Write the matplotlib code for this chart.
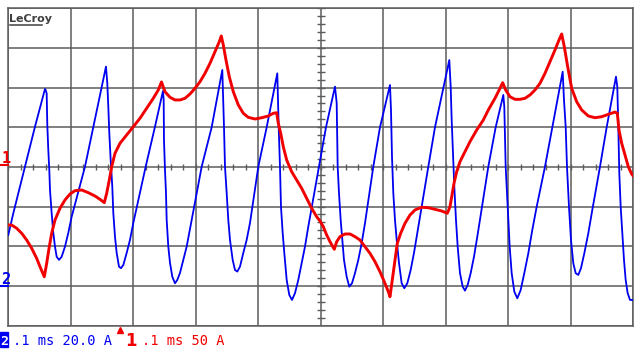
import numpy as np
import matplotlib.pyplot as plt
from matplotlib.patches import Rectangle
from matplotlib.lines import Line2D
import matplotlib.transforms as mtransforms

# time in microseconds (0.1 ms/div), currents in A
blue_t = [0, 8, 26.7, 42.7, 58.7, 59.8, 61.4, 62.4, 64, 65.6, 66.7, 69.4, 72, 74.7, 77.4,
          81.1, 85.4, 90.7, 96, 101.4, 122.7, 136, 156.3,
          158.4, 160, 161.6, 163.8, 166.4, 168, 170.7, 173.4, 177.1, 180.3, 184, 189.4,
          194.7, 200, 219.8, 234.7, 247.5,
          248.6, 249.1, 250.7, 252.3, 253.4, 256, 258.7, 262.4, 266.7, 270.4, 274.7, 280,
          285.4, 293.4, 309.4, 325.4, 342.4,
          345.1, 346.7, 349.4, 352, 354.7, 359, 362.7, 366.4, 370.7, 376, 381.4, 386.7,
          400, 413.4, 430.4,
          432.6, 434.7, 436.3, 439, 441.6, 445.4, 449.6, 453.9, 458.7, 464, 469.4, 474.7,
          480, 497.1, 508.3, 522.7,
          525.4, 527, 529.1, 531.8, 534.4, 537.1, 541.4, 545.6, 549.9, 554.7, 560, 565.4,
          570.7, 584, 594.7, 610.7,
          612.3, 613.9, 616, 618.7, 621.4, 625.1, 629.4, 633.6, 638.4, 643.8, 649.1, 654.4,
          661.4, 672, 682.7, 705.6,
          707.8, 709.4, 712, 713.6, 716.3, 719, 722.7, 727, 730.7, 735, 739.8, 745.1,
          750.4, 756.3, 768, 779.8, 792,
          793.6, 795.8, 797.9, 800, 802.2, 805.4, 809.6, 814.4, 819.8, 825.6, 832, 838.4,
          845.4, 858.7, 870.4, 887,
          889.1, 891.8, 893.9, 897.1, 900.3, 904, 907.8, 912, 916.3, 921.6, 928, 934.4,
          946.7, 957.4, 972.3,
          974.4, 976, 977.6, 979.8, 982.4, 985.1, 987.8, 991, 994.7, 998.4]
blue_a = [25.7, 36.6, 60.1, 80.3, 99.3, 98.8, 97.1, 81.2, 68.5, 58.5, 48.4, 36.6, 26.7, 19.8, 14.7,
          13.1, 14.7, 19.8, 26.7, 34.9, 60.1, 80.0, 110.6,
          102.2, 90.4, 77.1, 63.5, 50.0, 36.8, 24.8, 16.6, 9.7, 8.9, 10.5, 16.6,
          23.2, 31.7, 60.1, 80.3, 98.3,
          93.8, 73.6, 58.5, 46.9, 33.2, 19.8, 11.6, 4.6, 1.3, 3.0, 6.5, 13.1,
          19.8, 33.2, 60.1, 80.0, 108.9,
          80.3, 60.1, 46.9, 33.2, 23.2, 13.1, 8.0, 7.2, 9.7, 16.6, 23.2, 31.7,
          60.1, 80.0, 107.2,
          80.3, 60.1, 39.9, 26.7, 16.6, 3.0, -4.6, -7.1, -3.7, 3.0, 11.6, 19.8,
          29.9, 60.1, 80.0, 100.5,
          92.3, 60.1, 46.9, 33.2, 23.2, 13.1, 4.6, -0.4, 1.3, 6.4, 13.1, 21.5,
          31.6, 60.1, 80.0, 101.3,
          88.7, 65.2, 46.9, 33.2, 23.2, 11.6, 1.3, -1.2, 1.3, 8.0, 16.6, 26.5,
          39.9, 60.1, 80.0, 113.9,
          100.5, 83.7, 63.5, 50.0, 33.2, 19.8, 6.4, -0.4, -2.4, 0.5, 6.4, 14.7,
          24.8, 36.6, 60.1, 80.0, 96.3,
          90.4, 60.1, 46.9, 33.2, 19.8, 6.4, -2.9, -6.3, -2.1, 6.4, 16.4, 28.2,
          39.9, 60.1, 80.0, 108.0,
          93.8, 80.3, 60.1, 39.9, 23.2, 11.4, 6.4, 5.5, 8.9, 16.4, 26.5, 38.3,
          60.1, 80.0, 105.5,
          100.5, 80.3, 56.8, 39.9, 26.5, 13.1, 3.0, -3.7, -7.1, -7.1]

red_t = [0, 5.4, 13.4, 21.4, 29.4, 37.4, 45.4, 51.8, 57.6, 61.4, 65.6, 69.4, 74.7, 82.7,
         90.7, 98.7, 106.7, 117.4, 128, 138.7, 146.7, 153.6, 157.4, 161.6, 165.4, 170.7,
         178.7, 189.4, 200, 210.7, 221.4, 232, 240, 245.1, 250.7, 258.7, 266.7, 274.7,
         282.7, 290.7, 298.7, 306.7, 314.7, 322.7, 330.7, 337.6, 340.8, 344, 348.3, 353.6,
         360, 368, 376, 384, 394.7, 405.4, 416, 424, 429.4, 432, 435.8, 440, 445.4, 453.4,
         461.4, 469.4, 477.4, 485.4, 493.4, 498.7, 504, 509.4, 514.7, 521.6, 525.4, 530.7,
         538.7, 546.7, 554.7, 562.7, 570.7, 578.7, 586.7, 594.7, 602.7, 608, 610.7, 614.4,
         618.7, 622.4, 627.8, 634.7, 642.7, 650.7, 661.4, 672, 682.7, 693.4, 702.4, 706.7,
         709.4, 713.1, 717.4, 722.7, 730.7, 738.7, 749.4, 760, 768, 778.7, 786.7, 791,
         795.8, 802.7, 810.7, 818.7, 826.7, 834.7, 842.7, 850.7, 858.7, 866.7, 874.7, 881.1,
         885.4, 889.6, 895, 901.4, 909.4, 917.4, 928, 938.7, 949.4, 960, 970.7, 974.4,
         977.1, 981.4, 986.7, 992, 997.4, 1000]
red_a = [-73.3, -73.3, -77.4, -83.7, -92.2, -102.6, -115.3, -127.9, -138.5, -121.6, -100.6,
         -83.7, -67.0, -52.2, -41.7, -34.2, -30.0, -29.1, -32.5, -36.7, -40.9, -45.1, -33.3,
         -16.5, 0.3, 17.1, 29.8, 40.2, 50.7, 61.3, 73.9, 86.5, 97.0, 107.1, 94.8, 87.8, 84.4,
         84.4, 86.5, 91.9, 99.1, 107.4, 118.0, 130.6, 145.3, 157.9, 165.1, 153.7, 134.8,
         113.7, 94.8, 78.1, 67.6, 62.5, 60.4, 62.0, 64.2, 67.6, 68.3, 55.0, 42.4, 25.5, 8.7,
         -6.1, -16.5, -27.0, -39.6, -52.2, -62.8, -68.2, -75.4, -85.9, -94.3, -103.9, -94.3,
         -88.0, -84.6, -84.6, -88.0, -92.2, -100.6, -109.0, -119.5, -132.2, -146.8, -157.4,
         -163.7, -142.6, -117.4, -96.3, -83.7, -71.1, -60.7, -54.3, -50.9, -51.4, -53.5,
         -55.6, -58.5, -50.2, -37.6, -20.7, -6.1, 6.6, 19.2, 31.8, 46.5, 59.1, 71.8, 86.5,
         99.1, 106.2, 97.0, 88.5, 85.2, 85.2, 86.5, 90.7, 97.0, 105.4, 118.0, 132.7, 147.4,
         160.0, 167.6, 151.6, 126.4, 99.1, 82.2, 71.8, 64.2, 62.0, 63.3, 66.3, 69.2, 67.6,
         46.5, 29.8, 15.0, 0.3, -9.0, -11.5]

ch1_per_div, ch1_pos = 50.0, 0.0   # red, A/div, div
ch2_per_div, ch2_pos = 20.0, -3.0  # blue

grid_c = '#5c5c5c'
red_c = '#f00000'
blue_c = '#0000f0'

fig = plt.figure(figsize=(6.4, 3.55), dpi=100)
ax = fig.add_axes([8.3 / 640, 29.5 / 355, 625 / 640, 317.2 / 355])
ax.set_xlim(0, 1000)
ax.set_ylim(-4, 4)
ax.set_xticks(np.arange(0, 1001, 100))
ax.set_yticks(np.arange(-4, 5))
ax.tick_params(length=0, labelbottom=False, labelleft=False)
ax.grid(True, color=grid_c, lw=1.1)
ax.set_axisbelow(True)
for s in ax.spines.values():
    s.set_color(grid_c)
    s.set_linewidth(1.1)

# small ticks on the centre cross
ax.vlines(np.arange(0, 1001, 20), -0.085, 0.085, color=grid_c, lw=1.0, zorder=1)
ax.hlines(np.arange(-4, 4.01, 0.2), 500 - 6.5, 500 + 6.5, color=grid_c, lw=1.0, zorder=1)

ax.plot(blue_t, np.array(blue_a) / ch2_per_div + ch2_pos, color=blue_c, lw=1.3, zorder=3)
ax.plot(red_t, np.array(red_a) / ch1_per_div + ch1_pos, color=red_c, lw=2.1, zorder=4)

# LeCroy logo
fig.text(9.5 / 640, 1 - 22.5 / 355, 'LeCroy', fontsize=8, fontweight='bold',
         color='#404040', va='baseline', ha='left')
fig.add_artist(Line2D([10 / 640, 42 / 640], [1 - 24.8 / 355] * 2, color='#404040', lw=1.1))

# channel ground markers on the left
fig.text(1.2 / 640, 1 - 163 / 355, '1', color=red_c, fontsize=11, fontweight='bold',
         family='DejaVu Sans Mono', va='baseline')
fig.add_artist(Line2D([1 / 640, 8 / 640], [1 - 164.5 / 355] * 2, color=red_c, lw=1.5))
fig.text(1.2 / 640, 1 - 284 / 355, '2', color=blue_c, fontsize=11, fontweight='bold',
         family='DejaVu Sans Mono', va='baseline')
fig.add_artist(Line2D([1 / 640, 8 / 640], [1 - 286 / 355] * 2, color=blue_c, lw=1.5))

# bottom status line
fig.add_artist(Rectangle((0, 1 - 346.7 / 355), 7.5 / 640, 15 / 355,
                         transform=fig.transFigure, color=blue_c))
fig.text(3.8 / 640, 1 - 345 / 355, '2', color='white', fontsize=9.5, fontweight='bold',
         family='DejaVu Sans Mono', ha='center', va='baseline')
fig.text(13.3 / 640, 1 - 345 / 355, '.1 ms 20.0 A', color=blue_c, fontsize=9.8,
         family='DejaVu Sans Mono', va='baseline')
trig = mtransforms.blended_transform_factory(ax.transData, fig.transFigure)
ax.plot([178.7], [1 - 330 / 355], marker='^', color=red_c, markersize=5,
        transform=trig, clip_on=False)
fig.text(130.5 / 640, 1 - 346 / 355, '1', color=red_c, fontsize=12, fontweight='bold',
         family='DejaVu Sans', ha='center', va='baseline')
fig.text(141.6 / 640, 1 - 345 / 355, '.1 ms 50 A', color=red_c, fontsize=9.8,
         family='DejaVu Sans Mono', va='baseline')

fig.savefig('out.png', dpi=100)
